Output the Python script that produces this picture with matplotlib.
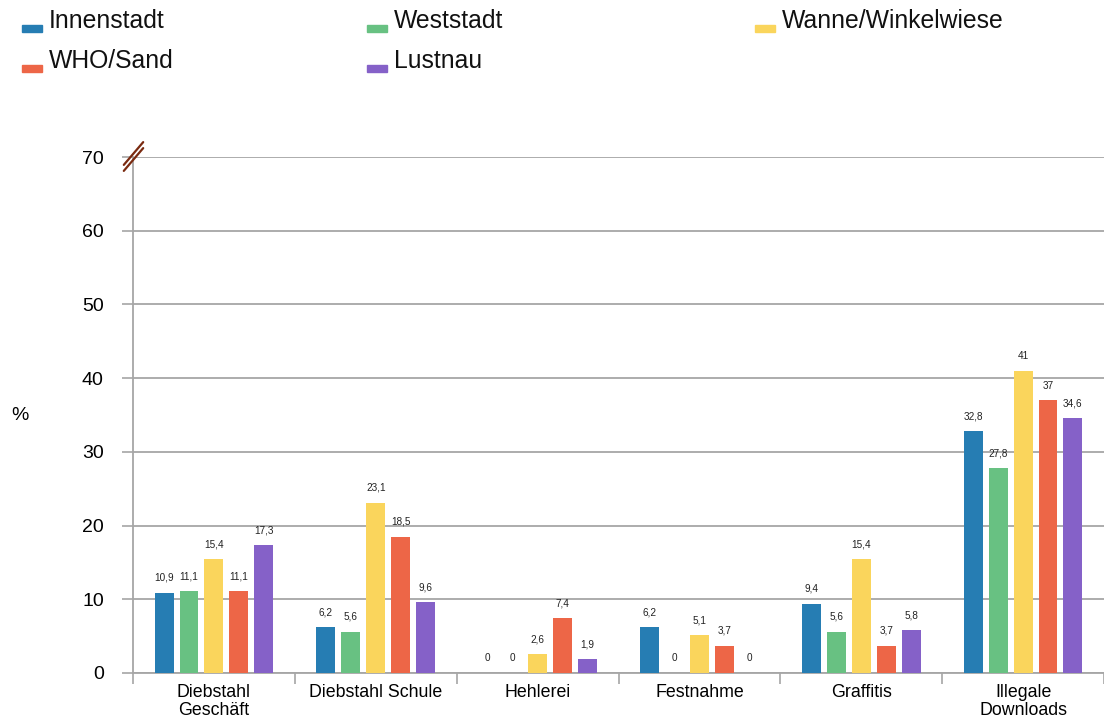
import matplotlib.pyplot as plt
import numpy as np
from matplotlib.patches import Rectangle

plt.rcParams["font.family"] = ["Liberation Sans", "DejaVu Sans"]

categories = ["Diebstahl\nGeschäft", "Diebstahl Schule", "Hehlerei",
              "Festnahme", "Graffitis", "Illegale\nDownloads"]
series = ["Innenstadt", "Weststadt", "Wanne/Winkelwiese", "WHO/Sand", "Lustnau"]
innenstadt = [10.9, 6.2, 0, 6.2, 9.4, 32.8]
weststadt = [11.1, 5.6, 0, 0, 5.6, 27.8]
wanne = [15.4, 23.1, 2.6, 5.1, 15.4, 41]
who_sand = [11.1, 18.5, 7.4, 3.7, 3.7, 37]
lustnau = [17.3, 9.6, 1.9, 0, 5.8, 34.6]
yticks = [0, 10, 20, 30, 40, 50, 60, 70]

colors = ["#267db3", "#68c182", "#fad55c", "#ed6647", "#8561c8"]
grid_col = "#a6a6a6"

fig = plt.figure(figsize=(11.04, 7.27), dpi=100, facecolor="white")
ax = fig.add_axes([0.1205, 0.0743, 0.8795, 0.7097])

values = [innenstadt, weststadt, wanne, who_sand, lustnau]
n = len(categories)
x = np.arange(n) + 0.5
width = 0.117
step = 0.154
for k, (vals, col) in enumerate(zip(values, colors)):
    xs = x + (k - 2) * step
    ax.bar(xs, vals, width=width, color=col, zorder=3)
    for xi, v in zip(xs, vals):
        lab = f"{v:g}".replace(".", ",")
        ax.annotate(lab, (xi, v), xytext=(0, 7), textcoords="offset points",
                    ha="center", va="bottom", fontsize=7.2, color="#222222")

ax.set_xlim(0, n)
ax.set_ylim(0, 70)
ax.set_yticks(yticks)
ax.set_yticklabels([str(t) for t in yticks], fontsize=14)
ax.tick_params(axis="y", length=8, width=1.2, color=grid_col, pad=13)
ax.set_xticks(np.arange(n + 1))
ax.set_xticklabels([])
ax.tick_params(axis="x", which="major", length=8, width=1.2, color=grid_col)
ax.set_xticks(x, minor=True)
ax.set_xticklabels(categories, minor=True, fontsize=12.8, linespacing=1.05)
ax.tick_params(axis="x", which="minor", length=0, pad=8)
ax.yaxis.grid(True, color=grid_col, linewidth=1.3, zorder=0)
ax.set_axisbelow(True)
for s in ["top", "right"]:
    ax.spines[s].set_visible(False)
for s in ["left", "bottom"]:
    ax.spines[s].set_color(grid_col)
    ax.spines[s].set_linewidth(1.3)

fig.text(20 / 1104, 1 - 415 / 727, "%", fontsize=14, ha="center", va="center")

# axis break mark at the top of the y axis
for dy in (0, 6):
    ax.annotate("", xy=(145, 583 - dy + 4), xytext=(122, 556 - dy + 4),
                xycoords="figure pixels", textcoords="figure pixels",
                arrowprops=dict(arrowstyle="-", color="#7a2a10", lw=1.6))

# legend
legend_pos = [(22, 21), (367, 21), (755, 21), (22, 61), (367, 61)]
for name, col, (lx, ly) in zip(series, colors, legend_pos):
    fig.patches.append(Rectangle((lx / 1104, 1 - (ly + 11) / 727), 20 / 1104, 7 / 727,
                                 transform=fig.transFigure, color=col))
    fig.text((lx + 27) / 1104, 1 - ly / 727, name, fontsize=17.8,
             va="center", ha="left", color="#111111")

fig.savefig("out.png", dpi=100, facecolor="white")
